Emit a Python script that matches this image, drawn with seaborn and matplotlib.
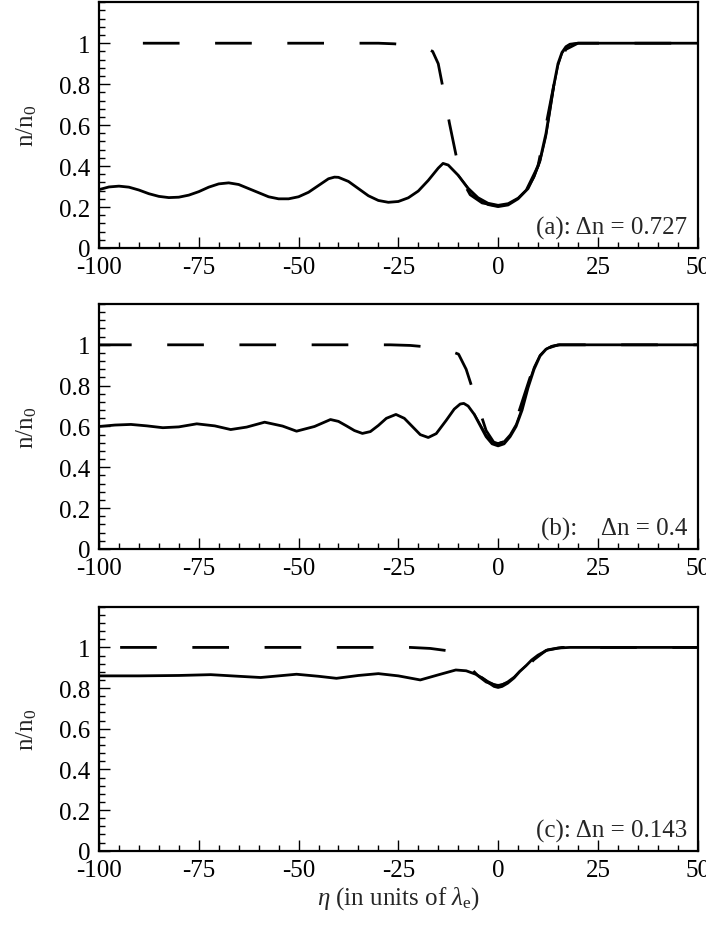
import matplotlib
matplotlib.use("Agg")
import matplotlib.pyplot as plt
import seaborn as sns
from matplotlib.ticker import MultipleLocator

# panel (a): delta n = 0.727
a_eta = [-100, -97.5, -95, -92.5, -90, -87.5, -85, -82.5, -80, -77.5, -75, -72.5, -70, -67.5,
         -65, -62.5, -60, -57.5, -55, -52.5, -50, -47.5, -45, -42.5, -41, -40, -37.5, -35,
         -32.5, -30, -27.5, -25, -22.5, -20, -17.5, -15, -13.8, -12.5, -10, -7.5, -5, -2.5,
         0, 2.5, 5, 7.5, 9, 10.5, 12, 13, 14, 15, 16, 17, 18, 20, 50]
a_n = [0.285, 0.298, 0.302, 0.297, 0.283, 0.265, 0.252, 0.246, 0.248, 0.258, 0.275, 0.297, 0.313, 0.318,
       0.31, 0.29, 0.27, 0.25, 0.24, 0.24, 0.25, 0.272, 0.305, 0.338, 0.346, 0.345, 0.325, 0.29,
       0.255, 0.232, 0.223, 0.227, 0.245, 0.278, 0.33, 0.39, 0.413, 0.405, 0.355, 0.29, 0.24, 0.212,
       0.202, 0.21, 0.24, 0.29, 0.35, 0.43, 0.56, 0.68, 0.8, 0.9, 0.955, 0.983, 0.995, 1.0, 1.0]
a_eta2 = [-10, -7.5, -5, -2.5, 0, 2.5, 5, 7.5, 9, 10.5, 12, 13, 14, 15, 16, 17, 18, 20]
a_n2 = [0.355, 0.293, 0.247, 0.22, 0.21, 0.218, 0.245, 0.293, 0.345, 0.42, 0.545, 0.665, 0.79, 0.89, 0.95, 0.98, 0.994, 1.0]
a_eta_th = [-89, -60, -30, -26, -22, -18, -16.4, -15, -13.8, -12.2, -10.4, -9, -7, -4, 0,
            4, 7, 10, 12, 13.5, 15, 17, 20, 50]
a_n_th = [1.0, 1.0, 1.0, 0.997, 0.99, 0.975, 0.96, 0.9, 0.78, 0.61, 0.44, 0.33, 0.26, 0.22, 0.205,
          0.22, 0.28, 0.4, 0.6, 0.75, 0.9, 0.97, 1.0, 1.0]

# panel (b): delta n = 0.4
b_eta = [-100, -96, -92, -88, -84, -80, -75.5, -71, -67, -63, -58.5, -54, -50.5, -46, -42, -40,
         -38, -36, -34, -32, -30, -28, -25.6, -23.5, -21.5, -19.5, -17.5, -15.5, -13, -11, -9.5,
         -8.6, -7.5, -6, -4.5, -3, -1.5, 0, 1.5, 3, 4.5, 6, 7.5, 9, 10.5, 12, 13.5, 15.5, 50]
b_n = [0.6, 0.607, 0.61, 0.603, 0.594, 0.598, 0.613, 0.603, 0.585, 0.597, 0.621, 0.602, 0.577, 0.6, 0.634, 0.625,
       0.603, 0.58, 0.566, 0.575, 0.605, 0.64, 0.659, 0.64, 0.6, 0.56, 0.546, 0.565, 0.63, 0.685, 0.71,
       0.713, 0.7, 0.66, 0.605, 0.55, 0.515, 0.505, 0.515, 0.55, 0.6, 0.68, 0.79, 0.88, 0.945, 0.978, 0.993, 1.0, 1.0]
b_eta2 = [-6, -4.5, -3, -1.5, 0, 1.5, 3, 4.5, 6, 7.5, 9, 10.5, 12, 13.5, 15.5]
b_n2 = [0.662, 0.61, 0.558, 0.527, 0.518, 0.527, 0.56, 0.61, 0.69, 0.8, 0.89, 0.95, 0.98, 0.994, 1.0]
b_eta_th = [-101, -60, -27, -22, -18, -12, -9.9, -8, -6.6, -5, -3, -1, 0, 2, 4, 6, 8, 10, 12, 15, 50]
b_n_th = [1.0, 1.0, 1.0, 0.997, 0.99, 0.97, 0.954, 0.88, 0.795, 0.7, 0.58, 0.52, 0.515, 0.53, 0.6,
          0.72, 0.84, 0.93, 0.98, 1.0, 1.0]

# panel (c): delta n = 0.143
c_eta = [-100, -90, -80, -72, -65, -59.5, -55, -50.5, -45, -40.5, -35, -30, -25, -19.5, -15, -10.6,
         -8, -5.6, -4, -2.6, -1, 0, 1, 2.4, 4, 5.4, 7, 8.4, 10, 12.4, 15, 18, 50]
c_n = [0.86, 0.86, 0.862, 0.866, 0.858, 0.852, 0.86, 0.868, 0.858, 0.848, 0.862, 0.871, 0.86, 0.84, 0.865, 0.889,
       0.885, 0.868, 0.85, 0.829, 0.808, 0.803, 0.808, 0.824, 0.85, 0.881, 0.91, 0.938, 0.962, 0.988, 0.997, 1.0, 1.0]
c_eta2 = [-4, -2.6, -1, 0, 1, 2.4, 4, 5.4, 7]
c_n2 = [0.852, 0.834, 0.818, 0.815, 0.818, 0.832, 0.855, 0.883, 0.91]
c_eta_th = [-94.7, -60, -22, -17, -12, -10, -8, -7, -5, -3, 0, 3, 6, 9, 12, 16, 50]
c_n_th = [1.0, 1.0, 1.0, 0.995, 0.982, 0.96, 0.92, 0.9, 0.86, 0.83, 0.81, 0.83, 0.88, 0.94, 0.985, 1.0, 1.0]

panel_text = ["(a): \u0394n = 0.727", "(b):    \u0394n = 0.4", "(c): \u0394n = 0.143"]
xtick_vals = [-100, -75, -50, -25, 0, 25, 50]
xtick_labels = ["-100", "-75", "-50", "-25", "0", "25", "50"]
ytick_vals = [0, 0.2, 0.4, 0.6, 0.8, 1.0]
ytick_labels = ["0", "0.2", "0.4", "0.6", "0.8", "1"]

sns.set_style("ticks")
plt.rcParams['font.family'] = ['Liberation Serif', 'DejaVu Serif']
plt.rcParams['mathtext.fontset'] = 'custom'
plt.rcParams['mathtext.rm'] = 'Liberation Serif'
plt.rcParams['mathtext.it'] = 'Liberation Serif:italic'
plt.rcParams['axes.unicode_minus'] = False

fig = plt.figure(figsize=(7.06, 9.29), dpi=100)
boxes = [[0.1402, 0.732, 0.848, 0.2645],
         [0.1402, 0.408, 0.848, 0.2637],
         [0.1402, 0.0832, 0.848, 0.2626]]
panels = [(a_eta, a_n, a_eta2, a_n2, a_eta_th, a_n_th),
          (b_eta, b_n, b_eta2, b_n2, b_eta_th, b_n_th),
          (c_eta, c_n, c_eta2, c_n2, c_eta_th, c_n_th)]

for i, (box, data) in enumerate(zip(boxes, panels)):
    ax = fig.add_axes(box)
    eta, n, eta2, n2, eta_th, n_th = data
    sns.lineplot(x=eta_th, y=n_th, ax=ax, color='k', lw=2.0, sort=False,
                 estimator=None, linestyle=(0, (13.2, 12.8)))
    sns.lineplot(x=eta2, y=n2, ax=ax, color='k', lw=1.5, sort=False, estimator=None)
    sns.lineplot(x=eta, y=n, ax=ax, color='k', lw=2.0, sort=False, estimator=None)

    ax.set_xlim(-100, 50)
    ax.set_ylim(0, 1.2)
    ax.set_xticks(xtick_vals)
    ax.set_xticklabels(xtick_labels)
    ax.set_yticks(ytick_vals)
    ax.set_yticklabels(ytick_labels)
    ax.xaxis.set_minor_locator(MultipleLocator(5))
    ax.yaxis.set_minor_locator(MultipleLocator(0.04))
    ax.tick_params(which='both', direction='in', top=False, right=False,
                   labelsize=18, width=1.0, color='k', labelcolor='k')
    ax.tick_params(which='major', length=8, pad=6)
    ax.tick_params(which='minor', length=4.5)
    for s in ax.spines.values():
        s.set_linewidth(1.6)
        s.set_color('k')
    ax.set_ylabel("n/n$_0$", fontsize=18)
    ax.yaxis.set_label_coords(-0.1, 0.5)
    ax.set_xlabel("")
    ax.text(0.982, 0.058, panel_text[i], transform=ax.transAxes, ha='right',
            va='baseline', fontsize=18)
    if i == 2:
        ax.set_xlabel(r"$\eta$ (in units of $\lambda_{\rm e}$)", fontsize=18, labelpad=2)

fig.savefig("out.png", dpi=100)
